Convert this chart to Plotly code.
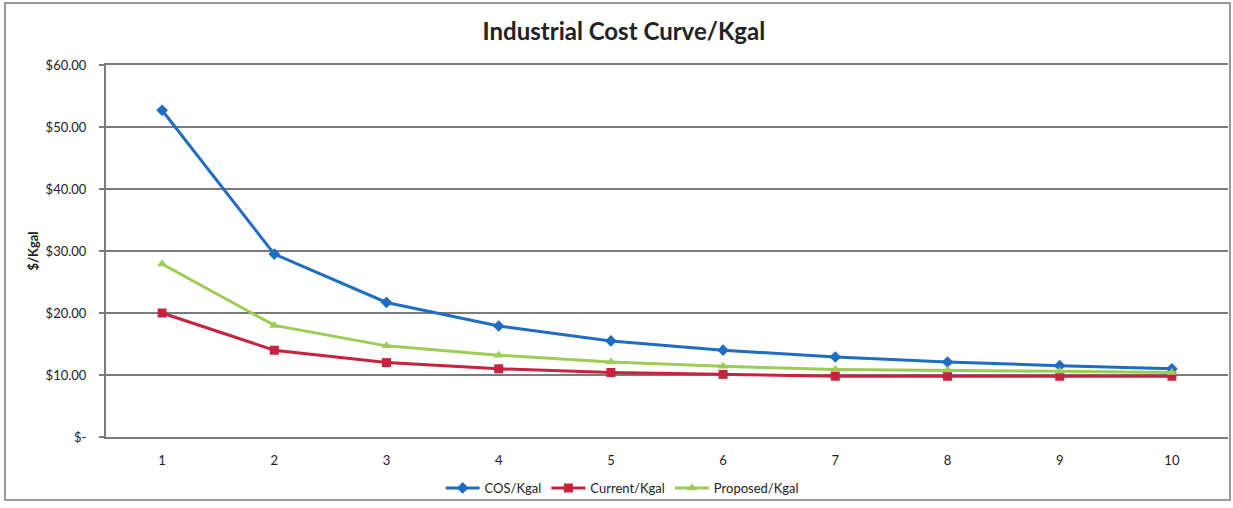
import plotly.graph_objects as go

# Usage blocks (x categories)
blocks = [1, 2, 3, 4, 5, 6, 7, 8, 9, 10]

# Cost per thousand gallons by block
cos_kgal = [52.7, 29.5, 21.7, 17.9, 15.5, 14.0, 12.9, 12.1, 11.5, 11.0]
current_kgal = [20.0, 14.0, 12.0, 11.0, 10.4, 10.1, 9.8, 9.8, 9.8, 9.8]
proposed_kgal = [27.9, 18.0, 14.7, 13.2, 12.1, 11.4, 10.9, 10.8, 10.6, 10.4]

# Y-axis tick labels
y_ticks = [0, 10, 20, 30, 40, 50, 60]
y_tick_text = ["$-", "$10.00", "$20.00", "$30.00", "$40.00", "$50.00", "$60.00"]

FONT = "Lato"

fig = go.Figure()
fig.add_trace(go.Scatter(
    x=blocks, y=cos_kgal, name="COS/Kgal", mode="lines+markers",
    line=dict(color="#1f6cc4", width=3),
    marker=dict(symbol="diamond", size=9, color="#1f6cc4"),
))
fig.add_trace(go.Scatter(
    x=blocks, y=current_kgal, name="Current/Kgal", mode="lines+markers",
    line=dict(color="#c8223f", width=3),
    marker=dict(symbol="square", size=9, color="#c8223f"),
))
fig.add_trace(go.Scatter(
    x=blocks, y=proposed_kgal, name="Proposed/Kgal", mode="lines+markers",
    line=dict(color="#9ccc55", width=3),
    marker=dict(symbol="triangle-up", size=9, color="#9ccc55"),
))

fig.update_layout(
    width=1233, height=508,
    margin=dict(l=106, r=5, t=65, b=71),
    paper_bgcolor="white", plot_bgcolor="white",
    font=dict(family=FONT, size=13, color="#222"),
    title=dict(text="<b>Industrial Cost Curve/Kgal</b>", x=0.506, xanchor="center",
               y=1 - 32 / 508, yanchor="middle",
               font=dict(family=FONT, size=24, color="#222")),
    showlegend=True,
    legend=dict(orientation="h", x=0.46, xanchor="center", y=-0.137, yanchor="middle",
                bgcolor="rgba(0,0,0,0)",
                font=dict(family=FONT, size=13, color="#222"),
                itemwidth=34, tracegroupgap=0),
    xaxis=dict(
        range=[0.5, 10.5], tickmode="array", tickvals=blocks,
        ticktext=[str(b) for b in blocks],
        showgrid=False, zeroline=False,
        showline=True, linecolor="#7a7a7a", linewidth=2, mirror=True,
        ticks="", ticklabelstandoff=10,
        tickfont=dict(family=FONT, size=13, color="#222"),
    ),
    yaxis=dict(
        range=[0, 60], tickmode="array", tickvals=y_ticks, ticktext=y_tick_text,
        showgrid=True, gridcolor="#7a7a7a", gridwidth=2, zeroline=False,
        showline=True, linecolor="#7a7a7a", linewidth=2,
        ticks="outside", ticklen=5, tickcolor="#7a7a7a", tickwidth=2,
        ticklabelstandoff=10,
        tickfont=dict(family=FONT, size=13, color="#222"),
        title=dict(text="<b>$/Kgal</b>", standoff=4,
                   font=dict(family=FONT, size=13, color="#222")),
    ),
)

# Outer chart frame
fig.add_shape(type="rect", xref="paper", yref="paper",
              x0=(5 - 106) / 1122, x1=(1230 - 106) / 1122,
              y0=-(500 - 437) / 372, y1=1 + (65 - 3) / 372,
              line=dict(color="#9a9a9a", width=2), fillcolor="rgba(0,0,0,0)",
              layer="below")

fig.write_html("out.html")
